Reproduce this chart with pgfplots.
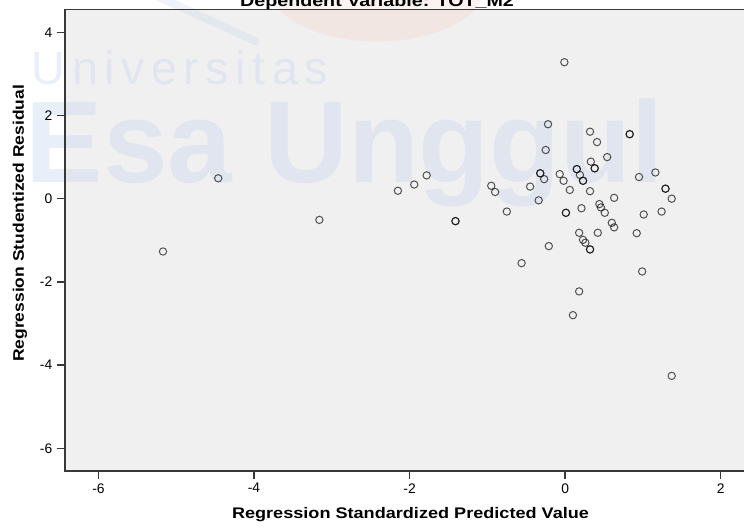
\documentclass[border=0pt]{standalone}
\usepackage{fontspec}
\setmainfont{Liberation Sans}
\usepackage{graphicx}
\usepackage{pgfplots}
\pgfplotsset{compat=1.18}
\definecolor{bggray}{HTML}{F0F0F0}
\definecolor{framec}{HTML}{383838}
\definecolor{wmblue}{HTML}{C8D6EE}
\definecolor{wmorange}{HTML}{F6C2AA}
\newcommand{\lbl}[1]{\fontsize{11.5}{13}\selectfont\bfseries\scalebox{1.18}[1]{#1}}
\newcommand{\ylbl}[1]{\fontsize{11.5}{13}\selectfont\bfseries\scalebox{1.14}[1]{#1}}
\begin{document}
\begin{tikzpicture}[x=1pt,y=1pt]
\fill[bggray] (0,0) rectangle (511.5,346);
\begin{scope}[fill opacity=0.4, text opacity=0.4]
\node[anchor=base west, inner sep=0, text=wmblue, font=\fontsize{87}{90}\selectfont\bfseries] at (-29.6,215.8) {Esa Unggul};
\node[anchor=base west, inner sep=0, text=wmblue, font=\fontsize{35}{38}\selectfont] at (-25,290) {U\kern.14em n\kern.14em i\kern.14em v\kern.14em e\kern.14em r\kern.14em s\kern.14em i\kern.14em t\kern.14em a\kern.14em s};
\end{scope}
\fill[wmorange, opacity=0.2] (234,362) ellipse (80 and 40);
\draw[wmblue, opacity=0.3, line width=6pt, line cap=round] (69,356) -- (143,322);
\begin{axis}[
  at={(0,0)}, anchor=south west,
  scale only axis, width=511.5pt, height=346pt,
  xmin=-6.43, xmax=2.338, ymin=-6.54, ymax=4.55,
  xtick={-6,-4,-2,0,2}, xticklabels={-6,-4,-2,0,2},
  ytick={-6,-4,-2,0,2,4}, yticklabels={-6,-4,-2,0,2,4},
  xtick pos=bottom, ytick pos=left,
  tick align=outside, major tick length=6pt,
  tick style={framec, line width=1pt},
  axis line style={framec, line width=1.2pt},
  ticklabel style={font=\fontsize{10.4}{12}\selectfont},
  xlabel={\lbl{Regression Standardized Predicted Value}},
  ylabel={\ylbl{Regression Studentized Residual}},
  xlabel style={at={(axis description cs:0.5066,-0.096)}, anchor=center},
  ylabel style={at={(axis description cs:-0.066,0.536)}, anchor=center},
  title={\fontsize{12}{14}\selectfont\bfseries\scalebox{1.23}[1]{Dependent Variable: TOT\_M2}},
  title style={at={(axis description cs:0.4575,0.990)}, anchor=base, inner sep=0pt},
  clip=false,
]
\addplot[only marks, mark=o, mark size=2.75pt, mark options={draw=black, draw opacity=0.66, line width=0.75pt}] table {
x y
-0.01 3.28
-0.22 1.79
0.32 1.61
0.41 1.36
0.83 1.55
0.83 1.55
-0.25 1.17
0.54 1.00
0.33 0.89
0.38 0.73
0.38 0.73
-0.32 0.61
-0.32 0.61
-0.27 0.47
-0.07 0.59
-0.02 0.43
0.15 0.71
0.15 0.71
0.19 0.57
0.23 0.43
0.23 0.43
0.06 0.21
0.32 0.18
0.95 0.52
1.16 0.63
1.29 0.24
1.29 0.24
1.37 0.00
-0.45 0.29
-0.34 -0.04
-0.95 0.31
-0.90 0.16
-0.75 -0.31
-1.41 -0.54
-1.41 -0.54
-1.78 0.56
-1.94 0.34
-2.15 0.19
0.01 -0.34
0.01 -0.34
0.21 -0.23
0.44 -0.13
0.46 -0.21
0.51 -0.34
0.63 0.02
1.01 -0.38
1.24 -0.31
0.60 -0.58
0.63 -0.69
0.42 -0.82
0.18 -0.82
0.92 -0.83
0.23 -0.99
0.26 -1.06
0.32 -1.22
0.32 -1.22
-0.21 -1.14
-0.56 -1.55
0.99 -1.75
0.18 -2.23
0.10 -2.80
1.37 -4.26
-4.46 0.49
-5.17 -1.27
-3.16 -0.51
};
\end{axis}
\pgfresetboundingbox
\useasboundingbox (-48.75,-43) rectangle (509.25,353.05);
\end{tikzpicture}
\end{document}
